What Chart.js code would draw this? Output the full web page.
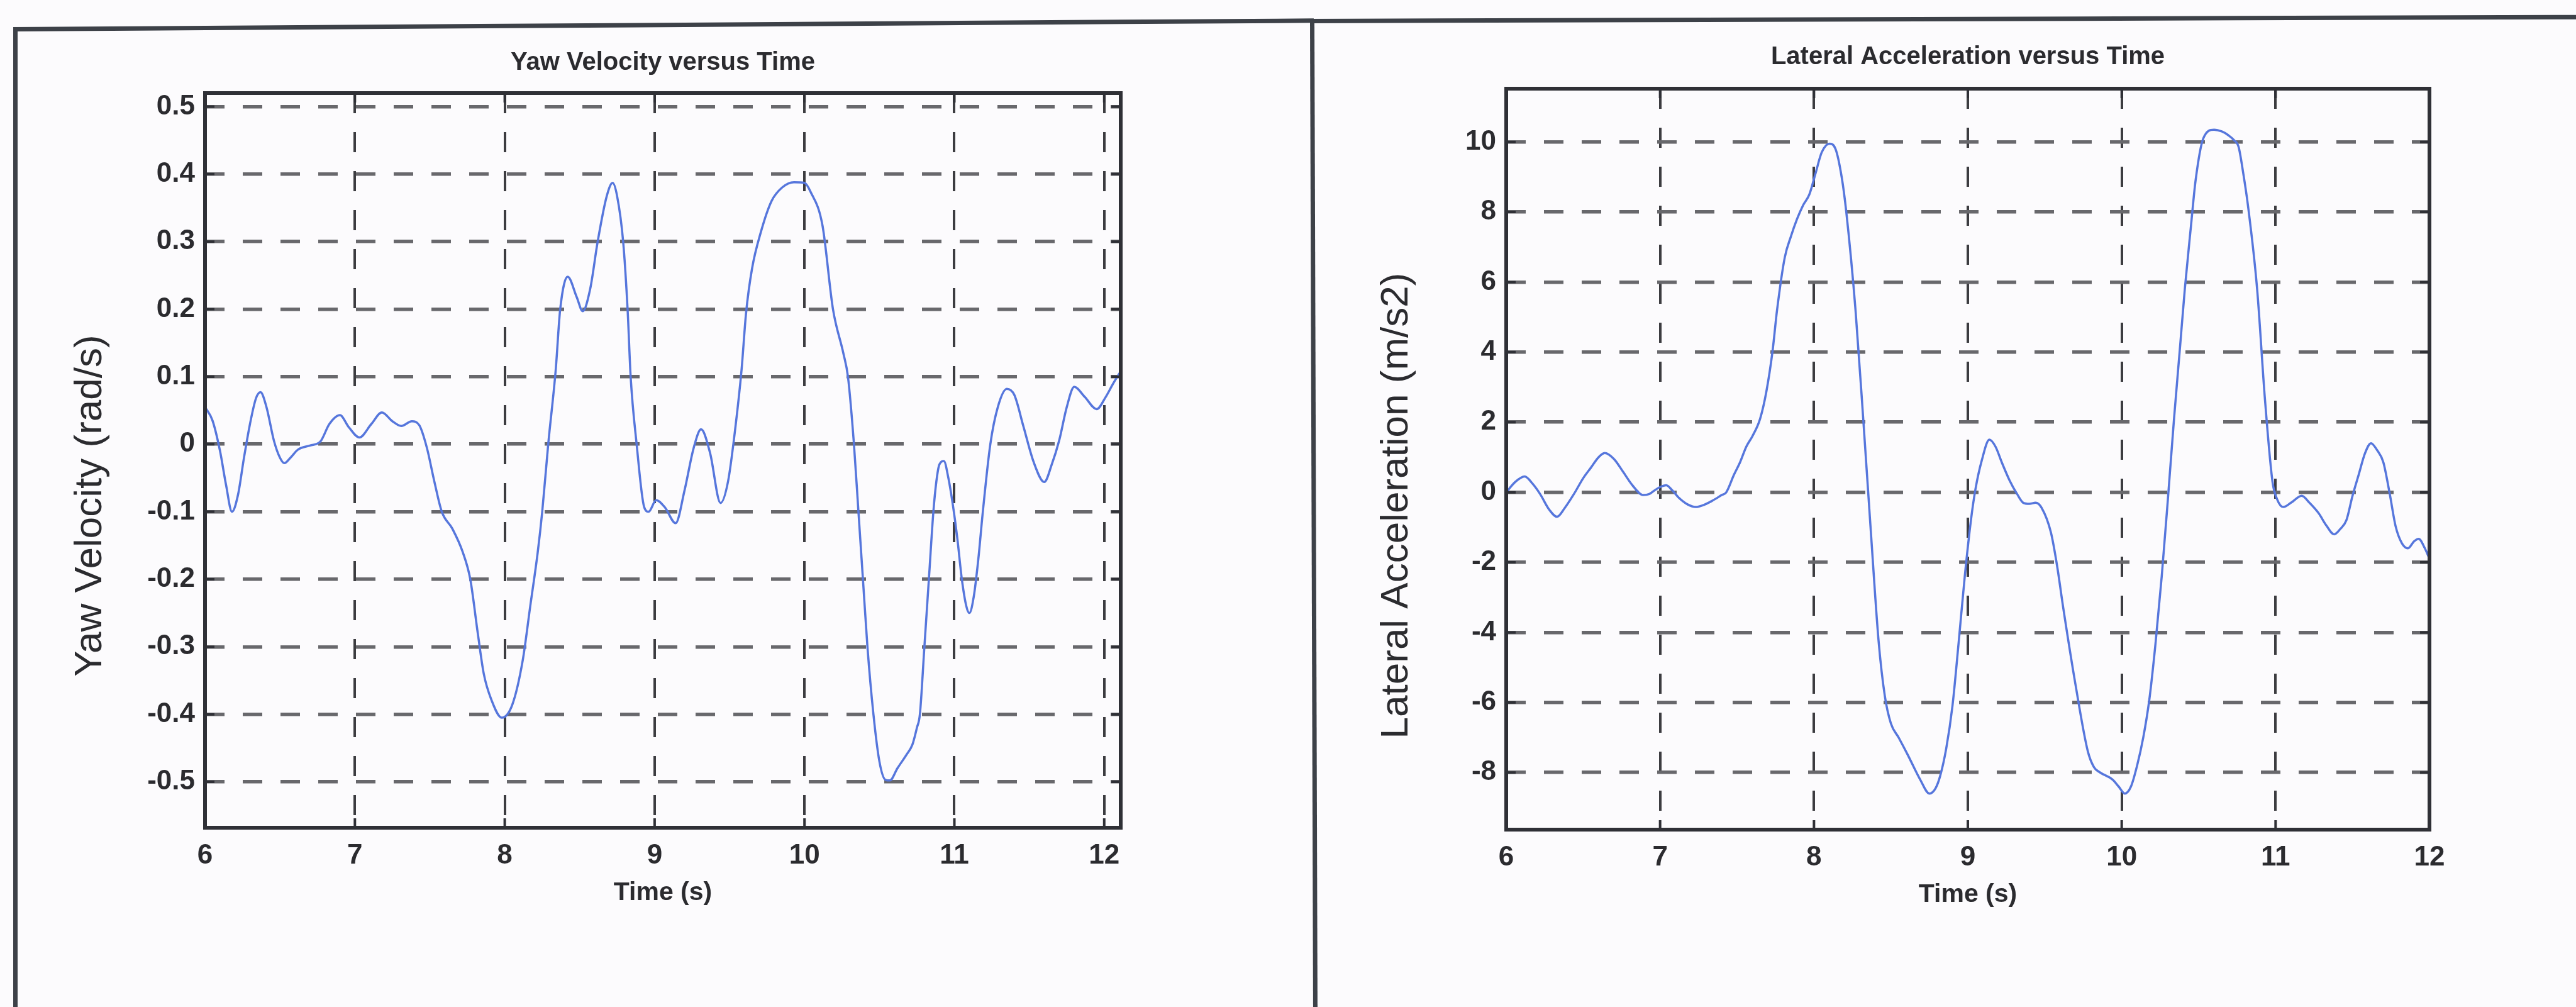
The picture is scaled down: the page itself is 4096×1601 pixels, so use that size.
<!DOCTYPE html>
<html>
<head>
<meta charset="utf-8">
<script src="https://cdn.jsdelivr.net/npm/chart.js@4/dist/chart.umd.min.js"></script>
<style>
html,body{margin:0;padding:0;background:#fcfbfd;width:4096px;height:1601px;overflow:hidden;position:relative;}
.ln{position:absolute;background:#3d4148;}
.cv{position:absolute;}
</style>
</head>
<body>
<div class="ln" style="left:21px;top:43px;width:2068px;height:7px;transform-origin:0 50%;transform:rotate(-0.38deg)"></div>
<div class="ln" style="left:2083px;top:30px;width:2020px;height:7px;transform-origin:0 50%;transform:rotate(-0.18deg)"></div>
<div class="ln" style="left:21px;top:44px;width:7px;height:1560px"></div>
<div class="ln" style="left:2083px;top:31px;width:7px;height:1575px;transform-origin:50% 0;transform:rotate(-0.18deg)"></div>
<div class="cv" style="left:30px;top:42px;width:2050px;height:1559px"><canvas id="c1"></canvas></div>
<div class="cv" style="left:2092px;top:42px;width:2004px;height:1559px"><canvas id="c2"></canvas></div>
<script>
// ---------- data ----------
const yawTime = [6.00,6.05,6.10,6.14,6.18,6.22,6.26,6.30,6.34,6.37,6.41,6.46,6.50,6.53,6.57,6.62,6.70,6.77,6.83,6.90,6.96,7.03,7.11,7.18,7.25,7.31,7.38,7.43,7.48,7.53,7.58,7.65,7.72,7.77,7.82,7.86,7.91,7.98,8.05,8.12,8.17,8.22,8.25,8.29,8.34,8.37,8.42,8.48,8.52,8.57,8.62,8.68,8.72,8.75,8.79,8.82,8.84,8.88,8.93,8.96,9.01,9.07,9.14,9.20,9.26,9.31,9.37,9.44,9.49,9.54,9.58,9.61,9.65,9.71,9.78,9.85,9.93,10.00,10.04,10.12,10.19,10.26,10.29,10.33,10.36,10.39,10.42,10.46,10.50,10.54,10.57,10.62,10.68,10.72,10.75,10.77,10.80,10.83,10.86,10.88,10.90,10.93,10.96,10.99,11.02,11.05,11.08,11.10,11.13,11.16,11.19,11.24,11.29,11.35,11.40,11.46,11.53,11.60,11.65,11.70,11.75,11.80,11.87,11.95,12.01,12.06,12.11];
const yawRate = [0.055,0.035,-0.01,-0.06,-0.10,-0.075,-0.02,0.03,0.068,0.077,0.055,0.005,-0.02,-0.028,-0.02,-0.008,-0.002,0.004,0.03,0.043,0.025,0.01,0.03,0.047,0.034,0.027,0.034,0.028,-0.005,-0.055,-0.10,-0.125,-0.16,-0.20,-0.28,-0.34,-0.378,-0.405,-0.386,-0.32,-0.24,-0.16,-0.10,0.0,0.11,0.20,0.248,0.218,0.197,0.23,0.30,0.367,0.387,0.367,0.30,0.198,0.10,0.0,-0.093,-0.10,-0.083,-0.094,-0.117,-0.068,-0.006,0.022,-0.013,-0.087,-0.055,0.027,0.11,0.194,0.26,0.315,0.36,0.38,0.388,0.387,0.374,0.324,0.20,0.134,0.10,0.0,-0.10,-0.20,-0.30,-0.40,-0.47,-0.497,-0.498,-0.48,-0.46,-0.445,-0.42,-0.40,-0.30,-0.20,-0.10,-0.055,-0.03,-0.025,-0.05,-0.09,-0.14,-0.20,-0.24,-0.25,-0.225,-0.17,-0.10,0.0,0.055,0.082,0.073,0.027,-0.027,-0.056,-0.03,0.006,0.055,0.085,0.07,0.052,0.07,0.09,0.108];

const accTime = [6.00,6.06,6.12,6.17,6.22,6.28,6.33,6.38,6.44,6.50,6.55,6.60,6.64,6.70,6.76,6.82,6.89,6.93,6.96,7.00,7.04,7.08,7.12,7.18,7.23,7.29,7.34,7.40,7.43,7.48,7.52,7.56,7.60,7.65,7.69,7.73,7.76,7.81,7.85,7.89,7.93,7.97,8.01,8.05,8.10,8.14,8.18,8.21,8.27,8.32,8.37,8.42,8.46,8.50,8.55,8.61,8.69,8.75,8.79,8.82,8.86,8.90,8.94,8.98,9.02,9.05,9.09,9.14,9.18,9.22,9.27,9.32,9.36,9.40,9.44,9.48,9.54,9.58,9.62,9.70,9.78,9.82,9.86,9.94,9.98,10.02,10.06,10.10,10.14,10.18,10.22,10.26,10.30,10.34,10.38,10.41,10.45,10.48,10.53,10.60,10.65,10.69,10.73,10.76,10.79,10.82,10.88,10.93,10.98,11.01,11.05,11.10,11.17,11.22,11.28,11.33,11.38,11.42,11.46,11.50,11.54,11.58,11.62,11.66,11.70,11.74,11.78,11.82,11.86,11.90,11.93,11.97,12.00];
const accLat = [0.0,0.3,0.45,0.25,-0.05,-0.5,-0.7,-0.45,-0.05,0.4,0.7,1.0,1.12,0.95,0.58,0.2,-0.08,-0.05,0.04,0.15,0.2,0.05,-0.15,-0.35,-0.42,-0.35,-0.24,-0.08,0.0,0.5,0.86,1.3,1.6,2.1,2.86,4.0,5.2,6.7,7.3,7.8,8.2,8.5,9.1,9.7,9.95,9.8,9.0,8.0,5.2,2.1,-1.15,-4.25,-5.8,-6.6,-7.0,-7.5,-8.2,-8.6,-8.45,-8.1,-7.3,-6.1,-4.3,-2.4,-0.8,0.1,0.9,1.5,1.3,0.86,0.35,-0.05,-0.3,-0.33,-0.3,-0.45,-1.15,-2.1,-3.3,-5.5,-7.4,-7.85,-8.0,-8.2,-8.4,-8.6,-8.4,-7.8,-7.0,-5.9,-4.3,-2.4,-0.2,2.1,4.2,5.8,7.6,8.9,10.1,10.35,10.3,10.2,10.05,9.85,9.1,8.2,5.8,2.7,0.3,-0.2,-0.42,-0.3,-0.1,-0.3,-0.6,-0.95,-1.2,-1.05,-0.8,-0.1,0.5,1.1,1.4,1.2,0.86,0.0,-0.97,-1.45,-1.6,-1.4,-1.33,-1.6,-1.9];

const timeTicks = [6,7,8,9,10,11,12];
const timeTickLabels = ['6','7','8','9','10','11','12'];
const yawTicks = [-0.5,-0.4,-0.3,-0.2,-0.1,0,0.1,0.2,0.3,0.4,0.5];
const yawTickLabels = ['-0.5','-0.4','-0.3','-0.2','-0.1','0','0.1','0.2','0.3','0.4','0.5'];
const accTicks = [-8,-6,-4,-2,0,2,4,6,8,10];
const accTickLabels = ['-8','-6','-4','-2','0','2','4','6','8','10'];
const chartTitles = ['Yaw Velocity versus Time','Lateral Acceleration versus Time'];
const xAxisLabel = 'Time (s)';
const yAxisLabels = ['Yaw Velocity (rad/s)','Lateral Acceleration (m/s2)'];

// ---------- style ----------
const FONT = "'Liberation Sans', Arial, Helvetica, sans-serif";
const TEXT = '#2b2b2f';
const BOX = '#2f3036';
const VGRID = '#3c3c40';
const HGRID = '#68686c';
const LINE = '#5676dc';
Chart.defaults.font.family = FONT;
Chart.defaults.color = TEXT;

const framePlugin = {
  id: 'frame',
  afterDatasetsDraw(chart, args, o) {
    const {ctx, chartArea: a, scales} = chart;
    ctx.save();
    ctx.strokeStyle = BOX;
    ctx.lineWidth = 4;
    ctx.beginPath();
    scales.x.ticks.forEach(t => {
      const p = scales.x.getPixelForValue(t.value);
      ctx.moveTo(p, a.bottom); ctx.lineTo(p, a.bottom - 15);
      ctx.moveTo(p, a.top); ctx.lineTo(p, a.top + 15);
    });
    scales.y.ticks.forEach(t => {
      const p = scales.y.getPixelForValue(t.value);
      ctx.moveTo(a.left, p); ctx.lineTo(a.left + 15, p);
      ctx.moveTo(a.right, p); ctx.lineTo(a.right - 15, p);
    });
    ctx.stroke();
    ctx.lineWidth = 6;
    ctx.strokeRect(a.left, a.top, a.right - a.left, a.bottom - a.top);
    ctx.fillStyle = TEXT;
    ctx.font = '62px ' + FONT;
    ctx.translate(a.left + o.dx, (a.top + a.bottom) / 2 + o.dy);
    ctx.rotate(-Math.PI / 2);
    ctx.textAlign = 'center';
    ctx.textBaseline = 'middle';
    ctx.fillText(o.text, 0, 0);
    ctx.restore();
  }
};

function build(id, times, vals, xMax, yMin, yMax, yT, yL, title, yLab, L) {
  const pts = times.map((t, i) => ({x: t, y: vals[i]}));
  return new Chart(document.getElementById(id), {
    type: 'line',
    data: {datasets: [{data: pts, borderColor: LINE, borderWidth: 3.5, pointRadius: 0,
      cubicInterpolationMode: 'monotone', fill: false}]},
    plugins: [framePlugin],
    options: {
      responsive: true, maintainAspectRatio: false, animation: false, devicePixelRatio: 1,
      layout: {padding: {left: 0, top: 0, right: L.padRight, bottom: L.padBottom}},
      plugins: {
        legend: {display: false}, tooltip: {enabled: false},
        title: {display: true, text: title, fullSize: false, color: TEXT,
          font: {size: 40, weight: 'bold', lineHeight: 1.2},
          padding: {top: L.titleTop, bottom: L.titleBottom}},
        frame: {text: yLab, dx: L.labDx, dy: L.labDy}
      },
      scales: {
        x: {type: 'linear', position: 'bottom', min: 6, max: xMax,
          afterBuildTicks: s => { s.ticks = timeTicks.map(v => ({value: v})); },
          afterFit: s => { s.height = 140; },
          ticks: {autoSkip: false, maxRotation: 0, padding: 18, color: TEXT,
            font: {size: 44, weight: 'bold', lineHeight: 1.2},
            callback: (v, i) => timeTickLabels[i]},
          grid: {color: VGRID, lineWidth: 4, drawTicks: false},
          border: {display: false, dash: [32, 30]},
          title: {display: true, text: xAxisLabel, color: TEXT,
            font: {size: 41, weight: 'bold', lineHeight: 1.2}, padding: {top: 0, bottom: 12}}
        },
        y: {type: 'linear', position: 'left', min: yMin, max: yMax,
          afterBuildTicks: s => { s.ticks = yT.map(v => ({value: v})); },
          afterFit: s => { s.width = L.yWidth; },
          ticks: {autoSkip: false, padding: 16, color: TEXT,
            font: {size: 44, weight: 'bold', lineHeight: 1.2},
            callback: (v, i) => yL[i]},
          grid: {color: HGRID, lineWidth: 5.5, drawTicks: false},
          border: {display: false, dash: [31, 29]}
        }
      }
    }
  });
}

build('c1', yawTime, yawRate, 12.11, -0.568, 0.52, yawTicks, yawTickLabels, chartTitles[0], yAxisLabels[0],
  {padRight: 298, padBottom: 145, titleTop: 34, titleBottom: 24, yWidth: 296, labDx: -182, labDy: 72});
build('c2', accTime, accLat, 12, -9.63, 11.52, accTicks, accTickLabels, chartTitles[1], yAxisLabels[1],
  {padRight: 233, padBottom: 142, titleTop: 25, titleBottom: 26, yWidth: 303, labDx: -174, labDy: 74});
</script>
</body>
</html>
